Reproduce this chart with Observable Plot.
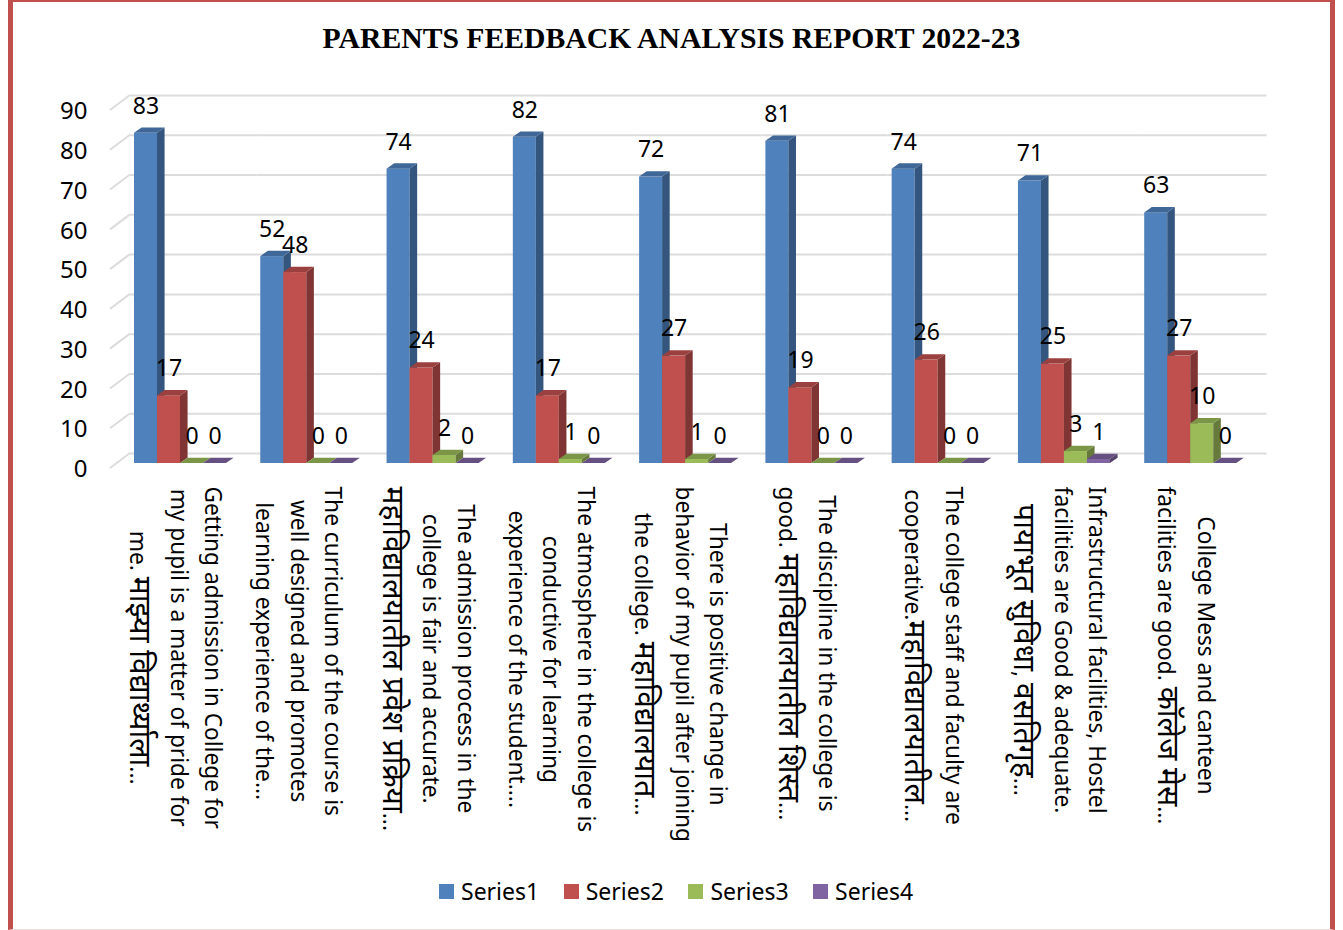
<!DOCTYPE html>
<html><head><meta charset="utf-8">
<script src="https://cdn.jsdelivr.net/npm/d3@7"></script>
<script src="https://cdn.jsdelivr.net/npm/@observablehq/plot@0.6"></script>
<style>
html,body{margin:0;padding:0;background:#fff}
#page{position:relative;width:1343px;height:930px;overflow:hidden;font-family:"Noto Sans",sans-serif}
#border{position:absolute;left:8px;top:-3px;width:1327px;height:933px;box-sizing:border-box;border:5px solid #c0504d;border-bottom:1px solid #f2dcdb}
#title{position:absolute;left:0;right:0;top:22px;text-align:center;font:bold 29.7px "Liberation Serif",serif;color:#000}
#chart{position:absolute;left:0;top:70px}
#legend{position:absolute;top:876px;left:439px;display:flex;font-size:23px;line-height:30px;color:#000}
#legend span.i{display:flex;align-items:center;width:124.7px}
#legend span.s{display:inline-block;width:15px;height:15px;margin-right:7px}
</style></head><body>
<div id="page"><div id="border"></div>
<div id="title">PARENTS FEEDBACK ANALYSIS REPORT 2022-23</div>
<div id="chart"></div><div id="legend"></div></div>
<script>
const categories = [
 "Getting admission in College for\nmy pupil is a matter of pride for\nme. माझ्या विद्यार्थ्याला...",
 "The curriculum of the course is\nwell designed and promotes\nlearning experience of the...",
 "The admission process in the\ncollege is fair and accurate.\nमहाविद्यालयातील प्रवेश प्रक्रिया...",
 "The atmosphere in the college is\nconductive for learning\nexperience of the student....",
 "There is positive change in\nbehavior of my pupil after joining\nthe college. महाविद्यालयात...",
 "The discipline in the college is\ngood. महाविद्यालयातील शिस्त...",
 "The college staff and faculty are\ncooperative.महाविद्यालयातील...",
 "Infrastructural facilities, Hostel\nfacilities are Good & adequate.\nपायाभूत सुविधा, वसतिगृह...",
 "College Mess and canteen\nfacilities are good. कॉलेज मेस..."
];
const seriesNames = ["Series1","Series2","Series3","Series4"];
const seriesColors = ["#4f81bd","#c0504d","#9bbb59","#8064a2"];
const series1 = [83,52,74,82,72,81,74,71,63];
const series2 = [17,48,24,17,27,19,26,25,27];
const series3 = [0,0,2,1,1,0,0,3,10];
const series4 = [0,0,0,0,0,0,0,1,0];
const yTicks = [0,10,20,30,40,50,60,70,80,90];

const allSeries = [series1,series2,series3,series4];
const rows = allSeries.flatMap((vals,s)=>vals.map((value,c)=>({cat:categories[c],series:seriesNames[s],value})));

const depthX = 7.6, depthY = 5.3;
const shade = (c,k)=>{const r=d3.rgb(c);return d3.rgb(r.r*k,r.g*k,r.b*k).formatHex();};

function bars3d(index,scales,values){
  const g = d3.create("svg:g");
  const bw = scales.x.bandwidth();
  for(const i of index){
    const x0 = values.x[i], x1 = x0+bw;
    const top = Math.min(values.y1[i],values.y2[i]), bot = Math.max(values.y1[i],values.y2[i]);
    const c = values.fill[i];
    g.append("rect").attr("x",x0).attr("y",top).attr("width",bw).attr("height",bot-top).attr("fill",c);
    g.append("polygon").attr("points",`${x1},${top} ${x1+depthX},${top-depthY} ${x1+depthX},${bot-depthY} ${x1},${bot}`).attr("fill",shade(c,.66));
    g.append("polygon").attr("points",`${x0},${top} ${x0+depthX},${top-depthY} ${x1+depthX},${top-depthY} ${x1},${top}`).attr("fill",shade(c,.8));
  }
  return g.node();
}
function wallTicks(index,scales,values,dim){
  const g = d3.create("svg:g").attr("stroke","#dcdcdc").attr("stroke-width",2).attr("fill","none");
  for(const i of index){
    const y = values.y[i];
    g.append("path").attr("d",`M${dim.marginLeft},${y+5}L${dim.marginLeft+20},${y-10}`);
  }
  return g.node();
}

const labelFont = '"Noto Sans",sans-serif';
const catSize = 22.7, devaSize = 30, devaGap = 6;
const devaRun = /([\u0900-\u097F]+(?: [\u0900-\u097F]+)*)/;
const hasDeva = t=>devaRun.test(t);
const meas = document.createElement("canvas").getContext("2d");
function lineLength(l){
  return l.split(devaRun).reduce((w,part,i)=>{
    meas.font = `${i%2?devaSize:catSize}px ${labelFont}`;
    return w+meas.measureText(part).width;
  },0);
}
const blockLength = t=>d3.max(t.split("\n"),lineLength);
function enlargeDeva(index,scales,values,dim,ctx,next){
  const g = next(index,scales,values,dim,ctx);
  g.querySelectorAll("tspan").forEach(ts=>{
    const parts = ts.textContent.split(devaRun);
    if(parts.length>1) ts.setAttribute("dy",`${parseFloat(ts.getAttribute("dy"))*catSize+devaGap}px`);
    ts.textContent = "";
    parts.forEach((p,i)=>{
      if(!p) return;
      if(i%2){ const s=document.createElementNS("http://www.w3.org/2000/svg","tspan"); s.setAttribute("font-size",devaSize); s.textContent=p; ts.append(s); }
      else ts.append(p);
    });
  });
  return g;
}

const plot = Plot.plot({
  width:1343, height:800,
  marginLeft:110, marginRight:95, marginTop:35, marginBottom:407,
  fx:{domain:categories,padding:0,axis:null,round:false,range:[110,1246.5]},
  x:{domain:seriesNames,paddingInner:0,paddingOuter:.745,align:.7,axis:null,round:false},
  y:{domain:[0,90],axis:null},
  color:{domain:seriesNames,range:seriesColors},
  style:{fontFamily:labelFont,background:"transparent",overflow:"visible"},
  marks:[
    Plot.ruleY(yTicks,{fx:()=>categories[0],render:wallTicks}),
    Plot.ruleY(yTicks,{dx:20,dy:-10,stroke:"#dcdcdc",strokeWidth:2,strokeOpacity:1}),
    Plot.axisY(yTicks,{anchor:"left",tickSize:0,tickPadding:23,fontSize:24,dy:6,color:"#000",label:null}),
    Plot.barY(rows,{fx:"cat",x:"series",y:"value",fill:"series",render:bars3d}),
    Plot.text(rows,{fx:"cat",x:"series",y:"value",text:d=>String(d.value),dy:-27,fontSize:23,fill:"#000"}),
    ...categories.map(c=>Plot.text([c],{fx:d=>d,text:d=>d,frameAnchor:"bottom",rotate:90,textAnchor:"middle",lineAnchor:"middle",
      fontSize:catSize,lineHeight:1.52,fill:"#000",dx:hasDeva(c)?2+devaGap:2,dy:23+blockLength(c)/2,render:enlargeDeva}))
  ]
});
document.getElementById("chart").append(plot);
const lg=d3.select("#legend");
seriesNames.forEach((n,i)=>{const s=lg.append("span").attr("class","i");s.append("span").attr("class","s").style("background",seriesColors[i]);s.append("span").text(n);});
</script></body></html>
